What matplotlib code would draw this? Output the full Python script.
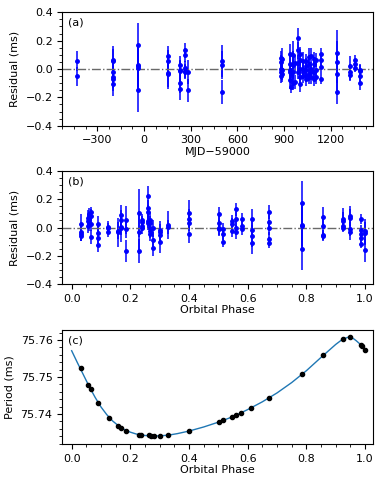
import numpy as np
import matplotlib
matplotlib.use("Agg")
import matplotlib.pyplot as plt

plt.rcParams['font.size'] = 8

# panel (a): timing residuals vs MJD-59000
mjd = [-432, -432,
       -197, -197, -197, -197, -197, -197,
       -36, -36, -36, -36, -36,
       156, 156, 156, 156,
       231, 231, 231, 231, 231,
       264, 264, 264, 264, 264,
       285, 285,
       503, 503, 503,
       878, 878, 878, 878, 878,
       889, 889, 889,
       938, 938, 938, 938, 938,
       948, 948,
       960, 960, 960, 960,
       970, 970,
       992, 992, 992, 992,
       1000, 1000, 1000, 1000, 1000,
       1020, 1020, 1020, 1020,
       1040, 1040, 1040, 1040, 1040,
       1062, 1062, 1062, 1062,
       1075, 1075, 1075, 1075,
       1095, 1095, 1095, 1095,
       1108, 1108, 1108,
       1138, 1138, 1138, 1138,
       1239, 1239, 1239, 1239,
       1324, 1324, 1324,
       1356, 1356, 1356,
       1388, 1388, 1388, 1388]
res_a = [0.054, -0.052,
         0.061, 0.054, -0.021, -0.056, -0.068, -0.108,
         0.169, 0.026, 0.019, 0.009, -0.151,
         0.089, 0.056, -0.028, -0.033,
         0.028, -0.009, -0.016, -0.096, -0.141,
         0.132, 0.101, 0.009, -0.016, -0.024,
         -0.024, -0.151,
         0.056, 0.026, -0.160,
         0.075, 0.050, 0.000, -0.024, -0.047,
         0.070, -0.005, -0.033,
         0.108, 0.038, -0.009, -0.020, -0.080,
         -0.045, -0.125,
         0.100, 0.026, -0.020, -0.100,
         0.040, -0.090,
         0.221, 0.133, 0.040, -0.020,
         0.108, 0.060, 0.000, -0.057, -0.104,
         0.059, 0.000, -0.024, -0.047,
         0.059, 0.024, -0.009, -0.045, -0.068,
         0.085, 0.038, -0.033, -0.057,
         0.095, 0.000, -0.024, -0.057,
         0.073, 0.038, -0.020, -0.068,
         0.061, -0.009, -0.057,
         0.108, 0.061, 0.014, -0.068,
         0.110, 0.049, -0.033, -0.165,
         0.019, -0.024, -0.040,
         0.066, 0.038, 0.009,
         -0.009, -0.016, -0.052, -0.101]
err_a = [0.070, 0.065,
         0.100, 0.090, 0.080, 0.080, 0.090, 0.085,
         0.158, 0.150, 0.150, 0.150, 0.150,
         0.076, 0.080, 0.100, 0.108,
         0.066, 0.070, 0.070, 0.070, 0.075,
         0.054, 0.050, 0.050, 0.050, 0.050,
         0.085, 0.082,
         0.110, 0.100, 0.085,
         0.050, 0.050, 0.050, 0.050, 0.050,
         0.080, 0.070, 0.060,
         0.070, 0.070, 0.060, 0.060, 0.060,
         0.050, 0.045,
         0.100, 0.100, 0.100, 0.050,
         0.060, 0.050,
         0.070, 0.060, 0.060, 0.050,
         0.050, 0.050, 0.050, 0.050, 0.060,
         0.060, 0.060, 0.050, 0.050,
         0.050, 0.050, 0.050, 0.050, 0.050,
         0.060, 0.050, 0.050, 0.050,
         0.050, 0.050, 0.050, 0.050,
         0.050, 0.050, 0.050, 0.050,
         0.050, 0.050, 0.050,
         0.040, 0.040, 0.040, 0.040,
         0.163, 0.150, 0.150, 0.085,
         0.070, 0.060, 0.040,
         0.034, 0.030, 0.030,
         0.047, 0.045, 0.050, 0.045]

# panel (b): timing residuals vs orbital phase
phase_b = [0.031, 0.031, 0.031, 0.031,
           0.055, 0.055, 0.055,
           0.060, 0.060, 0.060,
           0.065, 0.065, 0.065, 0.065,
           0.089, 0.089, 0.089, 0.089,
           0.125, 0.125, 0.125,
           0.159, 0.159,
           0.168, 0.168, 0.168, 0.168,
           0.185, 0.185, 0.185,
           0.231, 0.231, 0.231,
           0.239, 0.239, 0.239, 0.239,
           0.261, 0.261, 0.261, 0.261, 0.261,
           0.267, 0.267, 0.267, 0.267, 0.267,
           0.278, 0.278, 0.278,
           0.301, 0.301, 0.301, 0.301,
           0.330, 0.330,
           0.400, 0.400, 0.400, 0.400,
           0.502, 0.502, 0.502, 0.502,
           0.517, 0.517, 0.517,
           0.545, 0.545, 0.545,
           0.560, 0.560, 0.560, 0.560,
           0.580, 0.580, 0.580,
           0.614, 0.614, 0.614, 0.614,
           0.674, 0.674, 0.674, 0.674, 0.674,
           0.784, 0.784, 0.784, 0.784,
           0.856, 0.856, 0.856, 0.856,
           0.924, 0.924, 0.924, 0.924,
           0.949, 0.949, 0.949, 0.949,
           0.986, 0.986, 0.986, 0.986, 0.986,
           1.000, 1.000, 1.000]
res_b = [0.024, -0.035, -0.047, -0.059,
         0.070, 0.047, 0.012,
         0.094, 0.059, 0.024,
         0.106, 0.082, 0.024, -0.066,
         0.028, -0.040, -0.075, -0.125,
         0.005, -0.005, -0.035,
         -0.024, -0.035,
         0.087, 0.054, 0.005, -0.005,
         0.054, -0.007, -0.165,
         0.101, -0.035, -0.165,
         0.054, 0.042, 0.012, -0.005,
         0.219, 0.136, 0.108, 0.049, 0.031,
         0.056, 0.033, 0.000, -0.024, -0.047,
         -0.005, -0.089, -0.141,
         -0.016, -0.033, -0.054, -0.100,
         0.019, 0.005,
         0.105, 0.060, 0.035, -0.045,
         0.094, 0.035, 0.000, -0.012,
         -0.007, -0.047, -0.100,
         0.047, 0.024, -0.024,
         0.128, 0.059, 0.000, -0.030,
         0.059, 0.012, -0.012,
         0.059, -0.017, -0.059, -0.106,
         0.108, 0.040, 0.000, -0.082, -0.106,
         0.170, 0.020, 0.009, -0.150,
         0.075, 0.009, -0.054, -0.059,
         0.059, 0.047, 0.012, 0.000,
         0.082, 0.070, -0.012, -0.035,
         0.059, -0.020, -0.047, -0.075, -0.117,
         -0.028, -0.040, -0.160]
err_b = [0.070, 0.060, 0.050, 0.035,
         0.050, 0.050, 0.050,
         0.040, 0.050, 0.050,
         0.040, 0.050, 0.050, 0.050,
         0.050, 0.050, 0.060, 0.050,
         0.040, 0.040, 0.035,
         0.060, 0.100,
         0.075, 0.070, 0.060, 0.100,
         0.100, 0.070, 0.080,
         0.170, 0.150, 0.085,
         0.040, 0.040, 0.040, 0.040,
         0.075, 0.060, 0.050, 0.050, 0.050,
         0.050, 0.050, 0.050, 0.050, 0.050,
         0.060, 0.060, 0.060,
         0.060, 0.060, 0.050, 0.080,
         0.100, 0.050,
         0.090, 0.070, 0.060, 0.065,
         0.050, 0.050, 0.050, 0.050,
         0.040, 0.040, 0.040,
         0.040, 0.040, 0.040,
         0.046, 0.050, 0.050, 0.050,
         0.040, 0.040, 0.040,
         0.070, 0.060, 0.080, 0.080,
         0.050, 0.050, 0.050, 0.050, 0.040,
         0.160, 0.150, 0.150, 0.150,
         0.070, 0.060, 0.040, 0.030,
         0.080, 0.060, 0.040, 0.030,
         0.070, 0.060, 0.050, 0.050,
         0.035, 0.040, 0.040, 0.040, 0.030,
         0.085, 0.080, 0.080]

# panel (c): measured spin period per epoch and orbit model curve
phase_c = [0.031, 0.057, 0.065, 0.089, 0.126, 0.159, 0.169, 0.185, 0.231, 0.237,
           0.265, 0.271, 0.279, 0.302, 0.330, 0.401, 0.503, 0.515, 0.545, 0.560,
           0.578, 0.612, 0.674, 0.785, 0.856, 0.924, 0.949, 0.986, 0.989, 0.999]
period_c = [75.7523, 75.7478, 75.7467, 75.7431, 75.7390, 75.7367, 75.7362, 75.7355, 75.7344, 75.7344,
            75.7342, 75.7341, 75.7341, 75.7341, 75.7344, 75.7354, 75.7379, 75.7383, 75.7392, 75.7397,
            75.7404, 75.7417, 75.7444, 75.7509, 75.7559, 75.7603, 75.7607, 75.7587, 75.7585, 75.7572]
model_phase = [0.00, 0.02, 0.04, 0.06, 0.08, 0.10, 0.12, 0.14, 0.16, 0.18, 0.20, 0.22,
               0.25, 0.28, 0.30, 0.33, 0.36, 0.40, 0.45, 0.50, 0.55, 0.60, 0.65, 0.70,
               0.75, 0.80, 0.85, 0.88, 0.90, 0.92, 0.94, 0.95, 0.96, 0.97, 0.98, 0.99, 1.00]
model_period = [75.7571, 75.7538, 75.7506, 75.7474, 75.7445, 75.7419, 75.7398, 75.7381,
                75.7368, 75.7358, 75.7351, 75.7346, 75.7342, 75.7341, 75.7341, 75.7343,
                75.7347, 75.7354, 75.7365, 75.7378, 75.7393, 75.7412, 75.7433, 75.7457,
                75.7485, 75.7517, 75.7553, 75.7574, 75.7588, 75.7600, 75.7607, 75.7607,
                75.7604, 75.7598, 75.7591, 75.7582, 75.7571]

fig = plt.figure(figsize=(3.82, 4.86), dpi=100)
ax1 = fig.add_axes([0.163, 0.7414, 0.8126, 0.2333])
ax2 = fig.add_axes([0.163, 0.4150, 0.8126, 0.2337])
ax3 = fig.add_axes([0.163, 0.0864, 0.8126, 0.2346])

# (a)
ax1.errorbar(mjd, res_a, yerr=err_a, fmt='o', color='blue', ms=2.5, elinewidth=1.1, capsize=0)
ax1.axhline(0, color='dimgray', ls='-.', lw=1)
ax1.set_xlim(-525, 1470)
ax1.set_ylim(-0.4, 0.4)
ax1.set_xticks([-300, 0, 300, 600, 900, 1200])
ax1.set_xticklabels(['\u2212300', '0', '300', '600', '900', '1200'])
ax1.set_yticks([-0.4, -0.2, 0.0, 0.2, 0.4])
ax1.minorticks_on()
ax1.set_xlabel('MJD\u221259000', labelpad=1)
ax1.set_ylabel('Residual (ms)')
ax1.text(0.02, 0.95, '(a)', transform=ax1.transAxes, va='top')

# (b)
ax2.errorbar(phase_b, res_b, yerr=err_b, fmt='o', color='blue', ms=2.5, elinewidth=1.1, capsize=0)
ax2.axhline(0, color='dimgray', ls='-.', lw=1)
ax2.set_xlim(-0.032, 1.026)
ax2.set_ylim(-0.4, 0.4)
ax2.set_yticks([-0.4, -0.2, 0.0, 0.2, 0.4])
ax2.minorticks_on()
ax2.set_xlabel('Orbital Phase', labelpad=1)
ax2.set_ylabel('Residual (ms)')
ax2.text(0.02, 0.95, '(b)', transform=ax2.transAxes, va='top')

# (c)
ax3.plot(model_phase, model_period, color='#1f77b4', lw=1)
ax3.plot(phase_c, period_c, 'o', color='black', ms=3)
ax3.set_xlim(-0.032, 1.026)
ax3.set_ylim(75.7319, 75.7627)
ax3.set_yticks([75.74, 75.75, 75.76])
ax3.minorticks_on()
ax3.set_xlabel('Orbital Phase', labelpad=1)
ax3.set_ylabel('Period (ms)')
ax3.text(0.02, 0.95, '(c)', transform=ax3.transAxes, va='top')

fig.savefig('out.png', dpi=100)
